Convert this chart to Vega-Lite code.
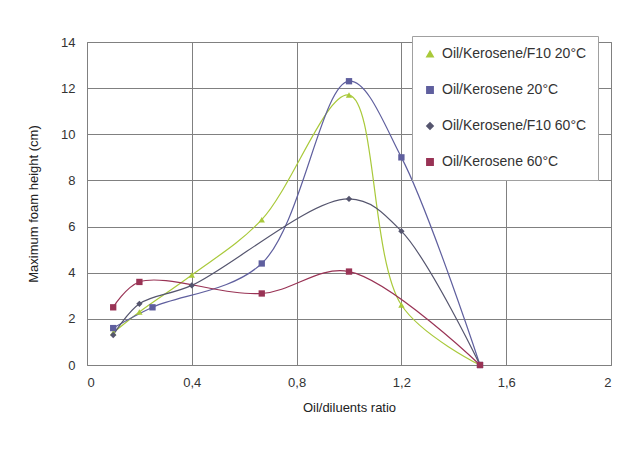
{
  "$schema": "https://vega.github.io/schema/vega-lite/v6.json",
  "width": 524,
  "height": 323,
  "autosize": {"type": "none"},
  "padding": {"left": 87, "top": 42, "right": 18, "bottom": 84},
  "background": "white",
  "config": {
    "font": "Liberation Sans",
    "view": {"stroke": "#808080", "strokeWidth": 1},
    "axis": {"gridColor": "#808080", "gridOpacity": 1, "gridWidth": 1, "domain": false, "ticks": false, "labelColor": "#333333", "labelFontSize": 13, "titleColor": "#222222", "titleFontSize": 13, "titleFontWeight": "normal"}
  },
  "data": {"values": [
    {"series": "Oil/Kerosene/F10 20°C", "x": 0.1, "y": 1.4},
    {"series": "Oil/Kerosene/F10 20°C", "x": 0.2, "y": 2.3},
    {"series": "Oil/Kerosene/F10 20°C", "x": 0.4, "y": 3.9},
    {"series": "Oil/Kerosene/F10 20°C", "x": 0.667, "y": 6.3},
    {"series": "Oil/Kerosene/F10 20°C", "x": 1.0, "y": 11.7},
    {"series": "Oil/Kerosene/F10 20°C", "x": 1.2, "y": 2.6},
    {"series": "Oil/Kerosene/F10 20°C", "x": 1.5, "y": 0},
    {"series": "Oil/Kerosene 20°C", "x": 0.1, "y": 1.6},
    {"series": "Oil/Kerosene 20°C", "x": 0.25, "y": 2.5},
    {"series": "Oil/Kerosene 20°C", "x": 0.667, "y": 4.4},
    {"series": "Oil/Kerosene 20°C", "x": 1.0, "y": 12.3},
    {"series": "Oil/Kerosene 20°C", "x": 1.2, "y": 9.0},
    {"series": "Oil/Kerosene 20°C", "x": 1.5, "y": 0},
    {"series": "Oil/Kerosene/F10 60°C", "x": 0.1, "y": 1.3},
    {"series": "Oil/Kerosene/F10 60°C", "x": 0.2, "y": 2.65},
    {"series": "Oil/Kerosene/F10 60°C", "x": 0.4, "y": 3.45},
    {"series": "Oil/Kerosene/F10 60°C", "x": 1.0, "y": 7.2},
    {"series": "Oil/Kerosene/F10 60°C", "x": 1.2, "y": 5.8},
    {"series": "Oil/Kerosene/F10 60°C", "x": 1.5, "y": 0},
    {"series": "Oil/Kerosene 60°C", "x": 0.1, "y": 2.5},
    {"series": "Oil/Kerosene 60°C", "x": 0.2, "y": 3.6},
    {"series": "Oil/Kerosene 60°C", "x": 0.667, "y": 3.1},
    {"series": "Oil/Kerosene 60°C", "x": 1.0, "y": 4.05},
    {"series": "Oil/Kerosene 60°C", "x": 1.5, "y": 0}
  ]},
  "encoding": {
    "x": {"field": "x", "type": "quantitative", "scale": {"domain": [0, 2], "nice": false},
      "axis": {"values": [0, 0.4, 0.8, 1.2, 1.6, 2], "labelExpr": "replace(format(datum.value, '~g'), '.', ',')", "title": "Oil/diluents ratio", "labelPadding": 11, "titlePadding": 12}},
    "y": {"field": "y", "type": "quantitative", "scale": {"domain": [0, 14], "nice": false},
      "axis": {"values": [0, 2, 4, 6, 8, 10, 12, 14], "title": "Maximum foam height (cm)", "labelPadding": 12, "titlePadding": 20}},
    "color": {"field": "series", "type": "nominal",
      "scale": {"domain": ["Oil/Kerosene/F10 20°C", "Oil/Kerosene 20°C", "Oil/Kerosene/F10 60°C", "Oil/Kerosene 60°C"],
                "range": ["#a9c93a", "#5f5f9e", "#55556e", "#993355"]},
      "legend": {"orient": "none", "legendX": 325, "legendY": -6, "title": null,
        "fillColor": "white", "strokeColor": "#a0a0a0", "padding": 11, "rowPadding": 22,
        "labelFontSize": 14, "labelOffset": 5, "labelColor": "#333333", "symbolSize": 40, "labelLimit": 250}}
  },
  "layer": [
    {"mark": {"type": "line", "interpolate": "catmull-rom", "strokeWidth": 1.2}},
    {"mark": {"type": "point", "filled": true, "size": 40, "opacity": 1},
     "encoding": {"shape": {"field": "series", "type": "nominal",
       "scale": {"domain": ["Oil/Kerosene/F10 20°C", "Oil/Kerosene 20°C", "Oil/Kerosene/F10 60°C", "Oil/Kerosene 60°C"],
                 "range": ["triangle-up", "square", "diamond", "square"]}}}}
  ]
}
